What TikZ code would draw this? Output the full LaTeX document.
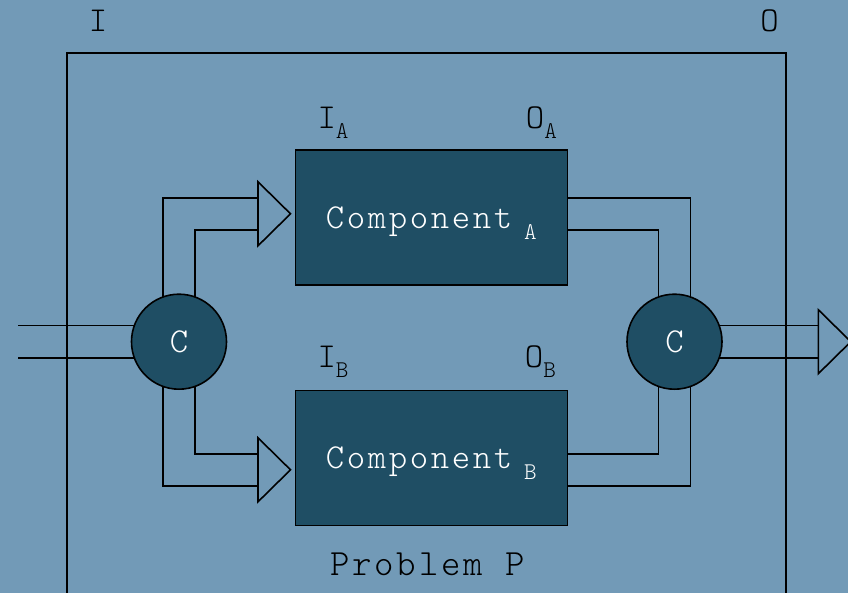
\documentclass[tikz,border=0pt]{standalone}
\usepackage{fontspec}
\setmainfont{lmmonolt10-regular.otf}[LetterSpace=7.5]
\usetikzlibrary{calc}
\pgfdeclarelayer{background}
\pgfsetlayers{background,main}
\definecolor{slate}{RGB}{114,154,183}
\definecolor{deepteal}{RGB}{31,78,100}
\newcommand\lowsub[1]{\raisebox{-10.5pt}[0pt][0pt]{\fontsize{24}{24}\selectfont #1}}

\begin{document}
\begin{tikzpicture}[x=1pt, y=-1pt, line width=1.6pt,
  unit/.style={draw, rectangle, fill=deepteal, text=white, minimum width=272pt, minimum height=135pt, text depth=0pt, font=\fontsize{35}{40}\selectfont},
  joint/.style={draw, circle, fill=deepteal, text=white, minimum size=95pt, inner sep=0pt, font=\fontsize{35}{40}\selectfont},
  tag/.style={inner sep=0pt, anchor=base west, font=\fontsize{35}{40}\selectfont},
  wall/.style={draw, line width=1.6pt, line join=miter},
  head/.style={wall, fill=slate}]
\useasboundingbox (0,0) rectangle (848,593);

% Components and couplers
\node[unit] (compA) at (431.3,217.8) {Component\kern12pt\lowsub{A}};
\node[unit] (compB) at (431.3,457.8) {Component\kern12pt\lowsub{B}};
\node[joint] (split) at (179,341.7) {C};
\node[joint] (merge) at (674.5,341.7) {C};

% Problem frame
\draw (66.7,53.3) rectangle (786,640);
\node[tag, anchor=base] (inP) at (98,31.7) {I};
\node[tag, anchor=base] (outP) at (769.5,31.7) {O};
\node[tag] (inA) at (316.8,128.3) {I\lowsub{A}};
\node[tag] (outA) at (525.1,128.3) {O\lowsub{A}};
\node[tag] (inB) at (316.8,367.3) {I\lowsub{B}};
\node[tag] (outB) at (524.1,367.3) {O\lowsub{B}};
\node[tag, anchor=base, font=\fontsize{37}{40}\selectfont] (prob) at (427.5,575) {Problem P};

% Pipes: two walls 32pt apart, open head at the far end
\coordinate (src) at (18,341.7);
\coordinate (sink) at (818.3,341.7);
\coordinate (headA) at ($(compA.west)+(-36.5,-4)$);
\coordinate (headB) at ($(compB.west)+(-36.5,12)$);
\coordinate (tailA) at ($(compA.east)+(0,-4)$);
\coordinate (tailB) at ($(compB.east)+(0,12)$);
\begin{pgfonlayer}{background}
\fill[slate] (0,0) rectangle (848,593);
% into the splitter
\draw[wall] ($(src)+(0,-16)$) -- ($(split.center)+(0,-16)$);
\draw[wall] ($(src)+(0,16)$) -- ($(split.center)+(0,16)$);
% splitter to the components
\draw[wall] ($(split.center)+(-16,0)$) |- ($(headA)+(0,-16)$);
\draw[wall] ($(split.center)+(16,0)$) |- ($(headA)+(0,16)$);
\draw[wall] ($(split.center)+(-16,0)$) |- ($(headB)+(0,16)$);
\draw[wall] ($(split.center)+(16,0)$) |- ($(headB)+(0,-16)$);
% components to the merger
\draw[wall] ($(tailA)+(0,-16)$) -| ($(merge.center)+(16,0)$);
\draw[wall] ($(tailA)+(0,16)$) -| ($(merge.center)+(-16,0)$);
\draw[wall] ($(tailB)+(0,16)$) -| ($(merge.center)+(16,0)$);
\draw[wall] ($(tailB)+(0,-16)$) -| ($(merge.center)+(-16,0)$);
% out of the merger
\draw[wall] ($(merge.center)+(0,-16)$) -- ($(sink)+(0,-16)$);
\draw[wall] ($(merge.center)+(0,16)$) -- ($(sink)+(0,16)$);
% heads
\draw[head] ($(headA)+(0,-32)$) -- ++(32.5,32) -- ++(-32.5,32) -- cycle;
\draw[head] ($(headB)+(0,-32)$) -- ++(32.5,32) -- ++(-32.5,32) -- cycle;
\draw[head] ($(sink)+(0,-32)$) -- ++(32.5,32) -- ++(-32.5,32) -- cycle;
\end{pgfonlayer}
\end{tikzpicture}
\end{document}
